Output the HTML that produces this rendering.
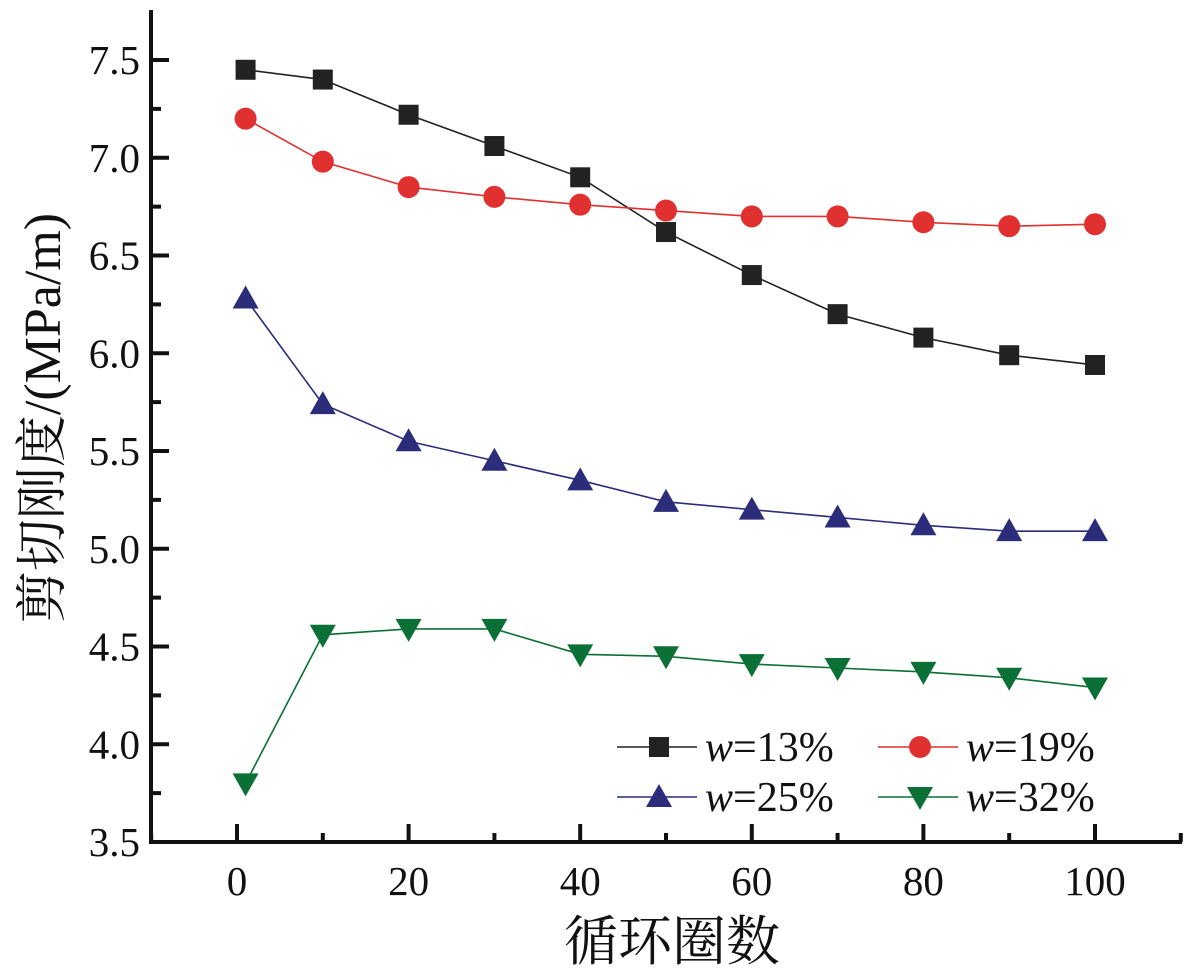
<!DOCTYPE html>
<html><head><meta charset="utf-8"><style>
html,body{margin:0;padding:0;background:#fff;}
svg{display:block;font-family:"Liberation Serif","Noto Serif CJK SC",serif;}
</style></head><body>
<svg id="chart" width="1199" height="973" viewBox="0 0 1199 973">
<g id="axes"></g><g id="series"></g><g id="legend"></g>
</svg>
<script>
const cycles=[1,10,20,30,40,50,60,70,80,90,100];
const w13=[7.45,7.40,7.22,7.06,6.90,6.62,6.40,6.20,6.08,5.99,5.94];
const w19=[7.20,6.98,6.85,6.80,6.76,6.73,6.70,6.70,6.67,6.65,6.66];
const w25=[6.28,5.74,5.55,5.45,5.35,5.24,5.20,5.16,5.12,5.09,5.09];
const w32=[3.80,4.56,4.59,4.59,4.46,4.45,4.41,4.39,4.37,4.34,4.29];
const xTicks=[0,20,40,60,80,100];
const yTicks=["3.5","4.0","4.5","5.0","5.5","6.0","6.5","7.0","7.5"];
const seriesNames=["w=13%","w=19%","w=25%","w=32%"];

const NS="http://www.w3.org/2000/svg";
const X=v=>237+v*8.58;
const Y=v=>842-(v-3.5)*195.5;
function mk(tag,attrs,parent,text){const e=document.createElementNS(NS,tag);for(const k in attrs)e.setAttribute(k,attrs[k]);if(text!==undefined)e.textContent=text;parent.appendChild(e);return e;}
const axes=document.getElementById('axes');
let e;
e=mk('path',{d:'M151,10 V844 M149,842 H1182',stroke:'#111','stroke-width':4,fill:'none'},axes);


for(let v=-10;v<=110;v+=10){const maj=v%20===0;
 e=mk('line',{x1:X(v),x2:X(v),y1:842,y2:842-(maj?18:9),stroke:'#111','stroke-width':4},axes);
 
 }
xTicks.forEach(v=>{e=mk('text',{x:X(v),y:895,'font-size':41,'text-anchor':'middle',fill:'#111'},axes,String(v));
 
 });
for(let i=0;i<=16;i++){const v=3.5+i*0.25;const maj=i%2===0;
 e=mk('line',{x1:151,x2:151+(maj?18:10),y1:Y(v),y2:Y(v),stroke:'#111','stroke-width':4},axes);
 
 }
yTicks.forEach(t=>{e=mk('text',{x:140,y:Y(parseFloat(t))+14,'font-size':41,'text-anchor':'end',fill:'#111'},axes,t);
 
 });
e=mk('text',{x:672,y:960,'font-size':54,'text-anchor':'middle',fill:'#111'},axes,'循环圈数');


e=mk('text',{x:0,y:0,'font-size':52,'text-anchor':'middle',fill:'#111',transform:'translate(60,418) rotate(-90)'},axes,'剪切刚度/(MPa/m)');



function marker(g,type,cx,cy,color){
 if(type==='sq')return mk('rect',{x:cx-10,y:cy-10,width:20,height:20,fill:color},g);
 if(type==='ci')return mk('circle',{cx,cy,r:11,fill:color},g);
 if(type==='up')return mk('polygon',{points:`${cx},${cy-13} ${cx-13},${cy+10} ${cx+13},${cy+10}`,fill:color},g);
 return mk('polygon',{points:`${cx},${cy+13} ${cx-13},${cy-10} ${cx+13},${cy-10}`,fill:color},g);
}
const sg=document.getElementById('series');
const defs=[[w13,'#222','sq','series-w13'],[w19,'#e03030','ci','series-w19'],[w25,'#2b2d7a','up','series-w25'],[w32,'#0a7035','dn','series-w32']];
defs.forEach(([data,color,type,name])=>{
 const g=mk('g',{},sg);
 
 
 mk('polyline',{points:data.map((v,i)=>X(cycles[i])+','+Y(v)).join(' '),fill:'none',stroke:color,'stroke-width':1.6},g);
 data.forEach((v,i)=>{const m=marker(g,type,X(cycles[i]),Y(v),color);
  
  });
});
const lg=document.getElementById('legend');


const pos=[[617,747],[878,747],[617,797],[878,797]];
defs.forEach(([d,color,type],i)=>{
 const [x,y]=pos[i];
 const g=mk('g',{},lg);
 
 
 mk('line',{x1:x,x2:x+80,y1:y,y2:y,stroke:color,'stroke-width':1.6},g);
 marker(g,type,x+42,y,color);
 const t=mk('text',{x:x+88,y:y+14,'font-size':42,fill:'#111'},g);
 mk('tspan',{'font-style':'italic'},t,'w');
 mk('tspan',{},t,seriesNames[i].slice(1));
});
</script>
</body></html>
